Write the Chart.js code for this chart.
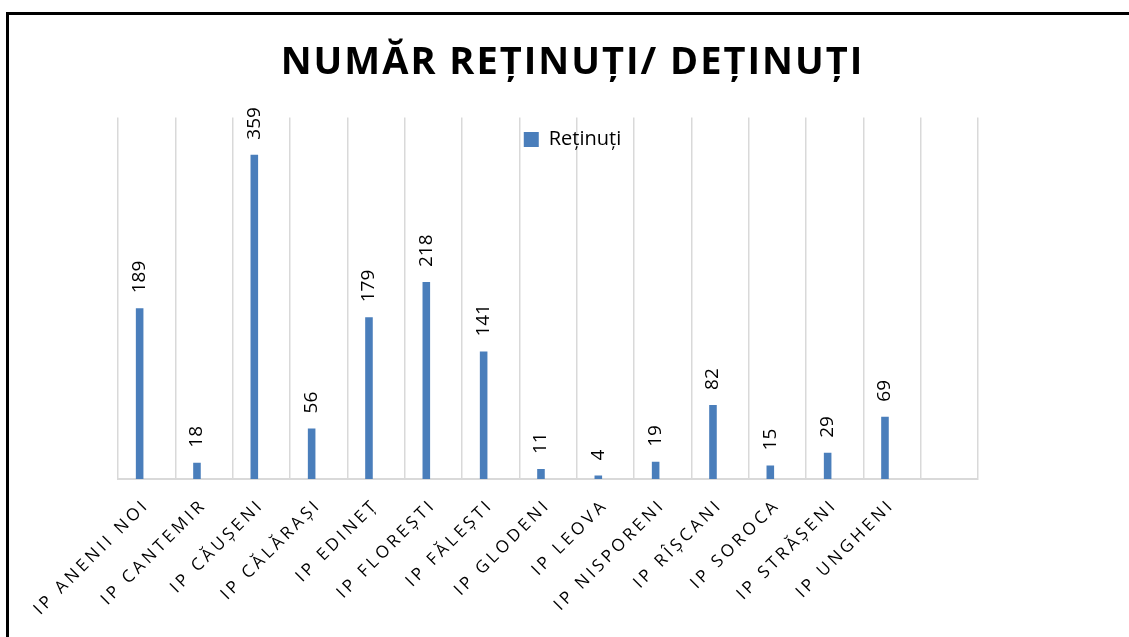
<!DOCTYPE html>
<html>
<head>
<meta charset="utf-8">
<script src="https://cdn.jsdelivr.net/npm/chart.js@4.4.0/dist/chart.umd.min.js"></script>
<style>
body { margin: 0; background: #fff; }
#wrap { position: relative; width: 1129px; height: 637px; }
#frame { position: absolute; left: 6px; top: 12px; right: 0; bottom: 0; border-left: 3px solid #000; border-top: 3px solid #000; pointer-events: none; }
</style>
</head>
<body>
<div id="wrap">
  <canvas id="retinuti" width="1129" height="637"></canvas>
  <div id="frame"></div>
</div>
<script>
// date
var categorii = ["IP ANENII NOI", "IP CANTEMIR", "IP CĂUȘENI", "IP CĂLĂRAȘI", "IP EDINEȚ",
                 "IP FLOREȘTI", "IP FĂLEȘTI", "IP GLODENI", "IP LEOVA", "IP NISPORENI",
                 "IP RÎȘCANI", "IP SOROCA", "IP STRĂȘENI", "IP UNGHENI", ""];
var retinuti = [189, 18, 359, 56, 179, 218, 141, 11, 4, 19, 82, 15, 29, 69];
var detinuti = []; // seria a doua e goala in original
var titlu = "NUMĂR REȚINUȚI/ DEȚINUȚI";

var albastru = '#4a7ebb';
var gri = '#d9d9d9';

function cuSpatiere(obj, metoda, sp) {
    if (!obj || obj['_sp_' + metoda]) return;
    var orig = obj[metoda];
    obj[metoda] = function() {
        var c = this.ctx;
        var vechi = c.letterSpacing;
        c.letterSpacing = sp;
        orig.apply(this, arguments);
        c.letterSpacing = vechi;
    };
    obj['_sp_' + metoda] = true;
}

/* spatiere litere ca in Excel + legenda peste zona graficului */
var spatiere = {
    id: 'spatiere',
    afterLayout: function(chart) {
        cuSpatiere(chart.titleBlock, 'draw', '2px');
        cuSpatiere(chart.scales.x, 'drawLabels', '3.5px');
        var leg = chart.legend;
        leg.height = 44;
        leg.bottom = leg.top + 44;
    }
};

/* etichete valori, rotite vertical */
var eticheteValori = {
    id: 'eticheteValori',
    afterDatasetsDraw: function(chart) {
        var ctx = chart.ctx;
        var meta = chart.getDatasetMeta(0);
        ctx.save();
        ctx.letterSpacing = '0px';
        ctx.font = '19px "Open Sans"';
        ctx.fillStyle = '#000';
        ctx.textAlign = 'left';
        ctx.textBaseline = 'middle';
        meta.data.forEach(function(bara, i) {
            var v = retinuti[i];
            if (v == null) return;
            ctx.save();
            ctx.translate(bara.x, bara.y - 15);
            ctx.rotate(-Math.PI / 2);
            ctx.fillText(String(v), 0, 0);
            ctx.restore();
        });
        ctx.restore();
    }
};

var ctxRet = document.getElementById("retinuti");

var dateRet = {
    labels: categorii,
    datasets: [{
        label: 'Reținuți',
        data: retinuti,
        backgroundColor: albastru,
        borderWidth: 0,
        categoryPercentage: 0.49,
        barPercentage: 0.54
    }, {
        label: 'Deținuți',
        data: detinuti,
        backgroundColor: '#c0504d',
        borderWidth: 0,
        categoryPercentage: 0.49,
        barPercentage: 0.54
    }]
};

var optiuniRet = {
    responsive: false,
    animation: false,
    devicePixelRatio: 1,
    layout: { padding: { top: 22, left: 16, right: 0, bottom: 0 } },
    plugins: {
        title: {
            display: true,
            text: titlu,
            color: '#000',
            font: { family: '"Open Sans"', size: 38, weight: 'bold' },
            padding: { top: 18, bottom: 32 }
        },
        legend: {
            display: true,
            position: 'top',
            maxHeight: 0.01,
            labels: {
                color: '#000',
                font: { family: '"Open Sans"', size: 20 },
                boxWidth: 15,
                boxHeight: 15,
                padding: 12,
                filter: function(item) { return item.datasetIndex === 0; }
            }
        },
        tooltip: { enabled: false }
    },
    scales: {
        x: {
            offset: true,
            grid: { display: true, offset: true, color: gri, lineWidth: 1.5, drawTicks: false },
            border: { display: true, color: gri, width: 2 },
            ticks: {
                autoSkip: false,
                maxRotation: 45,
                minRotation: 45,
                color: '#000',
                padding: 16,
                font: { family: '"Open Sans"', size: 17 }
            },
            afterFit: function(s) {
                s.paddingLeft = 0;
                s.paddingRight = 151;
                s.height = 158;
            }
        },
        y: {
            display: true,
            min: 0,
            max: 400,
            ticks: { display: false },
            grid: { display: false },
            border: { display: false },
            afterFit: function(s) { s.width = 102; }
        }
    }
};

var grafic = new Chart(ctxRet, {
    type: 'bar',
    data: dateRet,
    options: optiuniRet,
    plugins: [spatiere, eticheteValori]
});
</script>
</body>
</html>
